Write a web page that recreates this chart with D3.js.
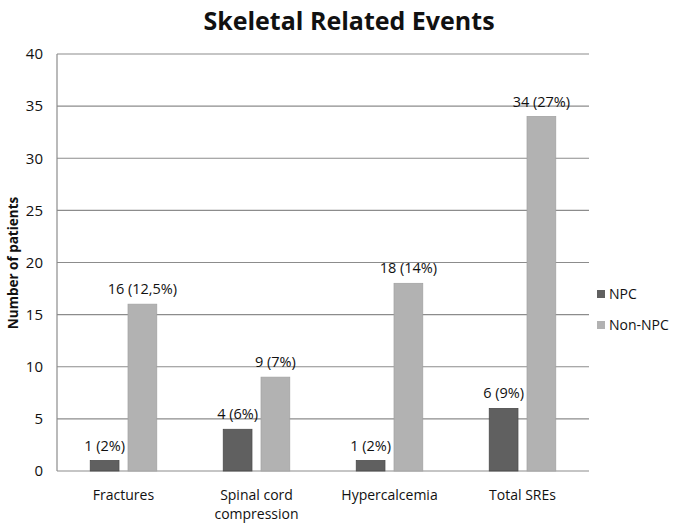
<!DOCTYPE html>
<html><head><meta charset="utf-8">
<script src="https://cdn.jsdelivr.net/npm/d3@7"></script>
<style>body{margin:0;background:#fff;} svg{display:block;}</style>
</head><body>
<svg id="c" width="700" height="527"></svg>
<script>
const categories = ["Fractures", "Spinal cord compression", "Hypercalcemia", "Total SREs"];
const seriesNames = ["NPC", "Non-NPC"];
const npcValues = [1, 4, 1, 6];
const nonNpcValues = [16, 9, 18, 34];
const npcLabels = ["1 (2%)", "4 (6%)", "1 (2%)", "6 (9%)"];
const nonNpcLabels = ["16 (12,5%)", "9 (7%)", "18 (14%)", "34 (27%)"];
const yTicks = [0, 5, 10, 15, 20, 25, 30, 35, 40];

const colors = {"NPC": "#606060", "Non-NPC": "#b2b2b2"};
const strokes = {"NPC": "#4a4a4a", "Non-NPC": "#a4a4a4"};
const font = "'Open Sans', 'Liberation Sans', sans-serif";

const svg = d3.select("#c");
const m = {left: 57, right: 589, top: 54, bottom: 471};

const x0 = d3.scaleBand().domain(categories).range([m.left, m.right]).paddingInner(0.5).paddingOuter(0.25);
const x1 = d3.scaleBand().domain(seriesNames).range([0, x0.bandwidth()]).paddingInner(0.24).paddingOuter(0);
const y = d3.scaleLinear().domain([0, 40]).range([m.bottom, m.top]);

// gridlines
svg.append("g").selectAll("line").data(yTicks.filter(d => d > 0)).join("line")
  .attr("x1", m.left).attr("x2", m.right)
  .attr("y1", d => y(d)).attr("y2", d => y(d))
  .attr("stroke", "#8c8c8c").attr("stroke-width", 1.2);

// axes lines
svg.append("line").attr("x1", m.left).attr("x2", m.left).attr("y1", m.top).attr("y2", m.bottom)
  .attr("stroke", "#8c8c8c").attr("stroke-width", 1.2);
svg.append("line").attr("x1", m.left).attr("x2", m.right).attr("y1", m.bottom).attr("y2", m.bottom)
  .attr("stroke", "#8c8c8c").attr("stroke-width", 1.2);

// y tick labels
const yAxis = d3.axisLeft(y).tickValues(yTicks).tickSize(0).tickPadding(14);
const ga = svg.append("g").attr("transform", `translate(${m.left},0)`).call(yAxis);
ga.select(".domain").remove();
ga.selectAll("text").attr("font-family", font).attr("font-size", 15).attr("fill", "#111");

// bars
const data = categories.map((c, i) => ({cat: c, vals: [
  {s: "NPC", v: npcValues[i], label: npcLabels[i]},
  {s: "Non-NPC", v: nonNpcValues[i], label: nonNpcLabels[i]}
]}));
const groups = svg.append("g").selectAll("g").data(data).join("g")
  .attr("transform", d => `translate(${x0(d.cat)},0)`);
groups.selectAll("rect").data(d => d.vals).join("rect")
  .attr("x", d => x1(d.s)).attr("width", x1.bandwidth())
  .attr("y", d => y(d.v)).attr("height", d => y(0) - y(d.v))
  .attr("fill", d => colors[d.s]).attr("stroke", d => strokes[d.s]).attr("stroke-width", 0.8);
groups.selectAll("text").data(d => d.vals).join("text")
  .attr("x", d => x1(d.s) + x1.bandwidth() / 2).attr("y", d => y(d.v) - 10)
  .attr("text-anchor", "middle").attr("font-family", font).attr("font-size", 14.5).attr("fill", "#111")
  .text(d => d.label);

// x labels
const xl = svg.append("g").selectAll("text").data(categories).join("text")
  .attr("x", d => x0(d) + x0.bandwidth() / 2).attr("y", 500)
  .attr("text-anchor", "middle").attr("font-family", font).attr("font-size", 14).attr("fill", "#111");
xl.each(function(d) {
  const t = d3.select(this);
  const parts = d === "Spinal cord compression" ? ["Spinal cord", "compression"] : [d];
  parts.forEach((p, i) => t.append("tspan").attr("x", x0(d) + x0.bandwidth() / 2).attr("dy", i === 0 ? 0 : 19).text(p));
});

// title
svg.append("text").attr("x", 349).attr("y", 30).attr("text-anchor", "middle")
  .attr("font-family", font).attr("font-weight", "bold").attr("font-size", 25).attr("fill", "#111")
  .text("Skeletal Related Events");

// y axis title
svg.append("text").attr("transform", "translate(18,263) rotate(-90)").attr("text-anchor", "middle")
  .attr("font-family", font).attr("font-weight", "bold").attr("font-size", 13.5).attr("fill", "#111")
  .text("Number of patients");

// legend
const lg = svg.append("g").selectAll("g").data(seriesNames).join("g")
  .attr("transform", (d, i) => `translate(597,${295 + i * 31})`);
lg.append("rect").attr("x", 0).attr("y", -5).attr("width", 8).attr("height", 8).attr("fill", d => colors[d]);
lg.append("text").attr("x", 12).attr("y", 4).attr("font-family", font).attr("font-size", 14).attr("fill", "#111").text(d => d);
</script>
</body></html>
